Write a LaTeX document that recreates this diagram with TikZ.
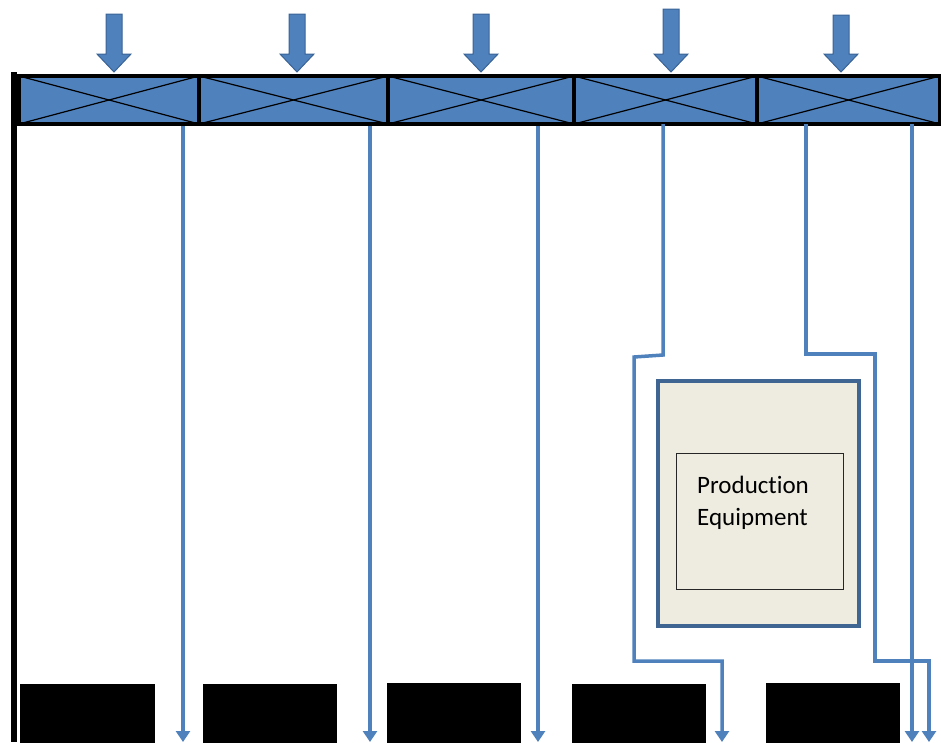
\documentclass[tikz,border=0pt]{standalone}
\usepackage{fontspec}
\setmainfont{Carlito}[Ligatures=NoCommon]
\usetikzlibrary{arrows.meta}
\definecolor{cellblue}{HTML}{4F81BD}
\definecolor{arrowedge}{HTML}{3A6396}
\definecolor{eqfill}{HTML}{EEECE1}
\definecolor{eqedge}{HTML}{3F6592}
\tikzset{
  cell/.style={fill=cellblue, draw=black, line width=4pt, minimum height=48pt, inner sep=0pt, anchor=north west},
  blockarrow/.style={fill=cellblue, draw=arrowedge, line width=1pt, line join=miter},
  flow/.style={draw=cellblue, line width=3.5pt, -{Triangle[width=14pt,length=11pt]}},
  blackblock/.style={fill=black, draw=none, inner sep=0pt, anchor=north west, minimum height=62pt},
}
\begin{document}
\begin{tikzpicture}[x=1pt,y=-1pt]
\useasboundingbox (0,0) rectangle (941,742);
% left wall
\draw[line width=6pt] (14,72) -- (14,742);
% header cells
\node[cell, minimum width=180pt] (h1) at (17,74) {};
\node[cell, minimum width=189pt] (h2) at (197,74) {};
\node[cell, minimum width=186pt] (h3) at (386,74) {};
\node[cell, minimum width=183pt] (h4) at (572,74) {};
\node[cell, minimum width=183pt] (h5) at (755,74) {};
\foreach \h in {h1,h2,h3,h4,h5}{
  \draw[line width=1.2pt] ([shift={(2pt,-2pt)}]\h.north west) -- ([shift={(-2pt,2pt)}]\h.south east);
  \draw[line width=1.2pt] ([shift={(2pt,2pt)}]\h.south west) -- ([shift={(-2pt,-2pt)}]\h.north east);
}
% top block arrows
\foreach \cx/\top in {114/14, 297/14, 481/14, 671/9, 841/15}{
  \draw[blockarrow] (\cx-8,\top) -- (\cx+8,\top) -- (\cx+8,54) -- (\cx+17,54) -- (\cx,72) -- (\cx-17,54) -- (\cx-8,54) -- cycle;
}
% bottom black blocks
\node[blackblock, minimum width=135pt] (b1) at (20,684) {};
\node[blackblock, minimum width=134pt] (b2) at (203,684) {};
\node[blackblock, minimum width=134pt] (b3) at (387,683) {};
\node[blackblock, minimum width=134pt] (b4) at (572,684) {};
\node[blackblock, minimum width=134pt] (b5) at (766,683) {};
% production equipment
\node[fill=eqfill, draw=eqedge, line width=3.5pt, minimum width=201pt, minimum height=245pt, inner sep=0pt, anchor=north west] (pe) at (656,379) {};
\node[fill=eqfill, draw=black!85, line width=1.2pt, minimum width=167pt, minimum height=136pt, inner sep=0pt, anchor=north west] (pein) at (676,453) {};
\node[anchor=base west, align=left, font=\fontsize{25}{32}\selectfont, inner sep=0pt] (pelabel) at (697,525) {Production\\Equipment};
% flow line endpoints
\coordinate (e1) at (183,742);
\coordinate (e2) at (370,742);
\coordinate (e3) at (538,742);
\coordinate (e4) at (722,742);
\coordinate (e5) at (912,742);
\coordinate (e6) at (929,742);
\draw[flow] (h1.south -| e1) -- (e1);
\draw[flow] (h2.south -| e2) -- (e2);
\draw[flow] (h3.south -| e3) -- (e3);
\coordinate (s4) at (663,124);
\draw[flow] (s4) -- (663,355) -- (634,357) -- (634,661) -- (722,661) -- (e4);
\coordinate (s5) at (806,124);
\draw[flow] (s5) -- (806,354) -- (875,354) -- (875,661) -- (929,661) -- (e6);
\coordinate (s6) at (912,124);
\draw[flow] (s6) -- (e5);
\end{tikzpicture}
\end{document}
